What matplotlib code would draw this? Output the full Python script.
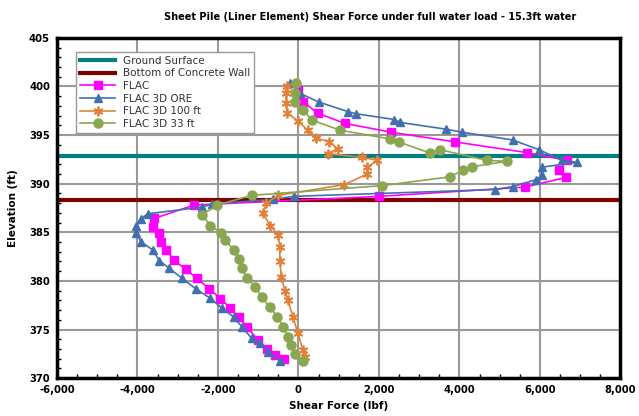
import matplotlib.pyplot as plt
from matplotlib.ticker import MultipleLocator, FuncFormatter

# elevations (ft) and shear force (lbf)
flac_x = [0, 111, 480, 1156, 2300, 3882, 5670, 6672, 6465, 6647, 5628, 2012,
          -2595, -3579, -3621, -3456, -3414, -3277, -3087, -2800, -2514, -2226,
          -1938, -1692, -1488, -1284, -996, -792, -585, -357]
flac_y = [399.6, 398.44, 397.25, 396.2, 395.3, 394.3, 393.2, 392.4, 391.4, 390.65,
          389.65, 388.7, 387.8, 386.43, 385.57, 384.89, 384.02, 383.17, 382.14,
          381.18, 380.25, 379.22, 378.19, 377.22, 376.3, 375.27, 373.9, 373.04,
          372.35, 372.0]

ore_x = [-216, 37, 504, 1242, 1422, 2386, 2529, 3678, 4059, 5319, 5973, 6549,
         6918, 6057, 6057, 5892, 5319, 4895, -111, -627, -2145, -2391, -3744,
         -3906, -4029, -4029, -3906, -3621, -3456, -3210, -2883, -2553, -2184,
         -1899, -1611, -1407, -1161, -954, -750, -462]
ore_y = [400.4, 399.3, 398.4, 397.4, 397.2, 396.6, 396.3, 395.6, 395.3, 394.5,
         393.5, 392.4, 392.2, 391.7, 390.9, 390.4, 389.7, 389.4, 388.7, 388.4,
         387.9, 387.6, 386.9, 386.4, 385.6, 384.9, 384.0, 383.2, 382.1, 381.3,
         380.25, 379.2, 378.2, 377.2, 376.3, 375.3, 374.1, 373.6, 372.7, 371.8]

f100_x = [-283, -320, -300, -283, -12, 234, 438, 768, 972, 726, 1587, 1956,
          1710, 1710, 1137, -504, -800, -873, -708, -504, -462, -462, -423,
          -339, -258, -135, -12, 111, 153]
f100_y = [400.0, 399.3, 398.3, 397.3, 396.45, 395.5, 394.7, 394.3, 393.6, 393.1,
          392.7, 392.4, 391.7, 391.0, 389.9, 388.8, 388.0, 386.95, 385.7, 384.7,
          383.5, 382.1, 380.4, 379.0, 378.0, 376.3, 374.6, 372.9, 372.2]

f33_x = [-62, -94, -74, 111, 332, 1038, 2283, 2490, 3267, 3513, 4681, 5178,
         4317, 4089, 3759, 2079, -1161, -2022, -2391, -2184, -1914, -1815,
         -1611, -1488, -1407, -1267, -1077, -915, -708, -522, -381, -258,
         -177, -79, 111]
f33_y = [400.4, 399.3, 398.4, 397.6, 396.55, 395.5, 394.6, 394.3, 393.15, 393.5,
         392.4, 392.3, 391.75, 391.4, 390.7, 389.8, 388.8, 387.8, 386.8, 385.7,
         384.9, 384.2, 383.2, 382.3, 381.3, 380.25, 379.4, 378.35, 377.3, 376.3,
         375.3, 374.2, 373.4, 372.5, 371.8]

ground_el = 392.8
wall_bottom_el = 388.3
x_range = [-6000, 8000]

fig = plt.figure(figsize=(6.39, 4.16), dpi=100)
ax = fig.add_axes([0.089, 0.091, 0.882, 0.818])

ax.plot(x_range, [ground_el, ground_el], color='#008080', lw=3, label='Ground Surface')
ax.plot(x_range, [wall_bottom_el, wall_bottom_el], color='#800000', lw=3,
        label='Bottom of Concrete Wall')
ax.plot(flac_x, flac_y, color='#FF00FF', lw=1.2, marker='s', ms=6, label='FLAC')
ax.plot(ore_x, ore_y, color='#4270AE', lw=1.2, marker='^', ms=6, label='FLAC 3D ORE')
ax.plot(f100_x, f100_y, color='#E2823A', lw=1.2, marker=(6, 2, 0), ms=7, mew=1.3,
        label='FLAC 3D 100 ft')
ax.plot(f33_x, f33_y, color='#8BA650', lw=1.2, marker='o', ms=6.5, label='FLAC 3D 33 ft')

ax.set_xlim(-6000, 8000)
ax.set_ylim(370, 405)
ax.xaxis.set_major_locator(MultipleLocator(2000))
ax.xaxis.set_minor_locator(MultipleLocator(500))
ax.yaxis.set_major_locator(MultipleLocator(5))
ax.yaxis.set_minor_locator(MultipleLocator(1))
ax.xaxis.set_major_formatter(FuncFormatter(lambda v, p: f'{int(v):,}'))
ax.grid(True, which='major', color='#999999', lw=1.5)
ax.set_axisbelow(True)
ax.tick_params(which='both', direction='in', labelsize=7.2)
ax.tick_params(which='major', length=0, pad=5)
ax.tick_params(which='minor', length=3, width=1)
for lab in ax.get_xticklabels() + ax.get_yticklabels():
    lab.set_fontweight('bold')
for s in ax.spines.values():
    s.set_linewidth(2.5)
    s.set_color('black')

ax.set_xlabel('Shear Force (lbf)', fontsize=7.5, fontweight='bold', labelpad=4)
ax.set_ylabel('Elevation (ft)', fontsize=7.5, fontweight='bold', labelpad=8)
fig.text(0.58, 0.96, 'Sheet Pile (Liner Element) Shear Force under full water load - 15.3ft water',
         ha='center', va='center', fontsize=7, fontweight='bold')

leg = ax.legend(loc='upper left', bbox_to_anchor=(0.025, 0.975), fontsize=7.5,
                frameon=True, fancybox=False, framealpha=1, edgecolor='#999999',
                handlelength=3.3, borderpad=0.4, labelspacing=0.25)
for t in leg.get_texts():
    t.set_color('#333333')

fig.savefig('out.png', dpi=100)
